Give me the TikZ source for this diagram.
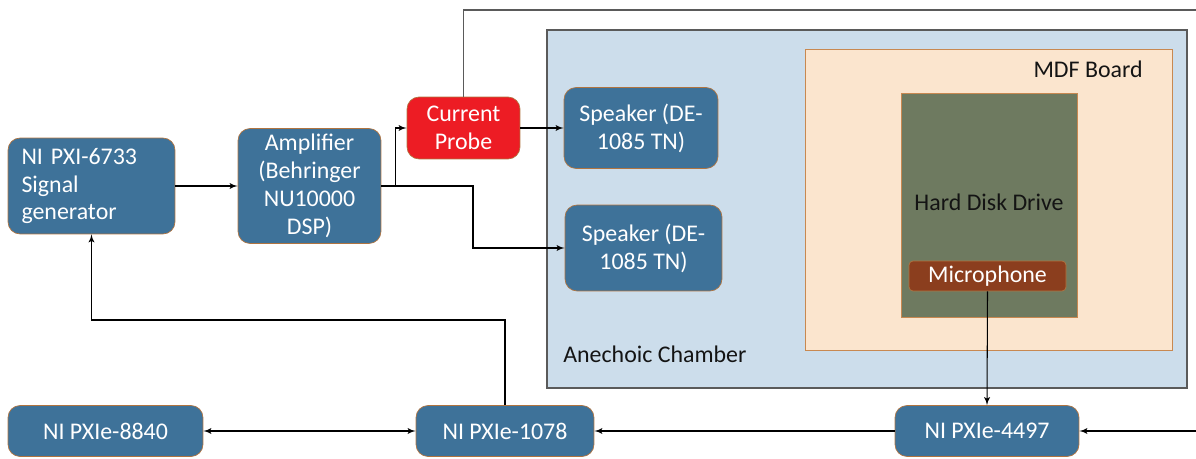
\documentclass[tikz,border=0pt]{standalone}
\usepackage{fontspec}
\setmainfont{Carlito}
\usetikzlibrary{arrows}

\definecolor{boxblue}{RGB}{62,114,153}
\definecolor{boxedge}{RGB}{176,116,64}
\definecolor{probered}{RGB}{237,28,36}
\definecolor{chamberblue}{RGB}{204,221,235}
\definecolor{wallgray}{RGB}{90,90,90}
\definecolor{mdffill}{RGB}{251,229,206}
\definecolor{mdfedge}{RGB}{200,136,80}
\definecolor{hddgreen}{RGB}{110,122,96}
\definecolor{micbrown}{RGB}{139,62,30}
\definecolor{labelgray}{RGB}{20,20,20}

\begin{document}
\begin{tikzpicture}[x=0.02cm,y=-0.02cm]
\tikzset{edge/.style = {->,> = latex', line width=0.6pt}}
\tikzset{unit/.style = {draw=boxedge, fill=boxblue, text=white, rounded corners=0.24cm,
  font=\fontsize{13.6}{15.9}\selectfont, align=center, inner sep=2pt}}
\tikzset{label/.style = {text=labelgray, font=\fontsize{13.6}{15.9}\selectfont, inner sep=0pt}}

\useasboundingbox (0,0) rectangle (1196,459);

% chamber and board
\node[draw=wallgray, line width=0.8pt, fill=chamberblue, minimum width=12.8cm, minimum height=7.16cm] (chamber) at (867,209) {};
\node[draw=mdfedge, fill=mdffill, minimum width=7.34cm, minimum height=6.02cm] (mdf) at (988.5,199.5) {};
\node[draw=mdfedge, fill=hddgreen, minimum width=3.52cm, minimum height=4.48cm] (hdd) at (989,205) {};

\node[label, anchor=base west] (chamberlabel) at (563,362) {Anechoic Chamber};
\node[label, anchor=base east] (mdflabel) at (1143,78) {MDF Board};
\node[label, anchor=base] (hddlabel) at (989,211) {Hard Disk Drive};

% units
\node[unit, align=left, text width=2.8cm, minimum width=3.34cm, minimum height=1.92cm] (siggen) at (91.5,186) {NI PXI-6733\\Signal\\generator};
\node[unit, minimum width=2.86cm, minimum height=2.3cm] (amp) at (309.5,186) {Amplifier\\(Behringer\\NU10000\\DSP)};
\node[unit, fill=probered, minimum width=2.26cm, minimum height=1.24cm] (probe) at (463.5,128) {Current\\Probe};
\node[unit, minimum width=3.08cm, minimum height=1.62cm] (spk1) at (641,128) {Speaker (DE-\\1085 TN)};
\node[unit, minimum width=3.14cm, minimum height=1.72cm] (spk2) at (643.5,248) {Speaker (DE-\\1085 TN)};
\node[unit, fill=micbrown, rounded corners=0.08cm, minimum width=3.14cm, minimum height=0.6cm] (mic) at (987.5,276) {Microphone};
\node[unit, minimum width=3.9cm, minimum height=1.02cm] (pxi8840) at (105.5,431) {NI PXIe-8840};
\node[unit, minimum width=3.56cm, minimum height=1.02cm] (pxi1078) at (505,431) {NI PXIe-1078};
\node[unit, minimum width=3.68cm, minimum height=1.02cm] (pxi4497) at (987,431) {NI PXIe-4497};

\coordinate (loopne) at (1196,10);
\coordinate (loopse) at (1196,431);
\coordinate (feedback) at (91.5,320);

% wiring
\draw[edge] (siggen.east) -- (amp.west);
\draw[edge] (amp.east) -- ++(14,0) |- (probe.west);
\draw[edge] (amp.east) -- (473,186) |- (spk2.west);
\draw[edge] (probe.east) -- (spk1.west);
\draw[line width=0.6pt, draw=wallgray] (probe.north) |- (loopne);
\draw[edge] (loopse) -- (pxi4497.east);
\draw[edge] (pxi4497.west) -- (pxi1078.east);
\draw[edge, <->] (pxi8840.east) -- (pxi1078.west);
\draw[edge] (pxi1078.north) |- (feedback) -- (siggen.south);
\draw[edge] (mic.south) -- (pxi4497.north);

\end{tikzpicture}
\end{document}
